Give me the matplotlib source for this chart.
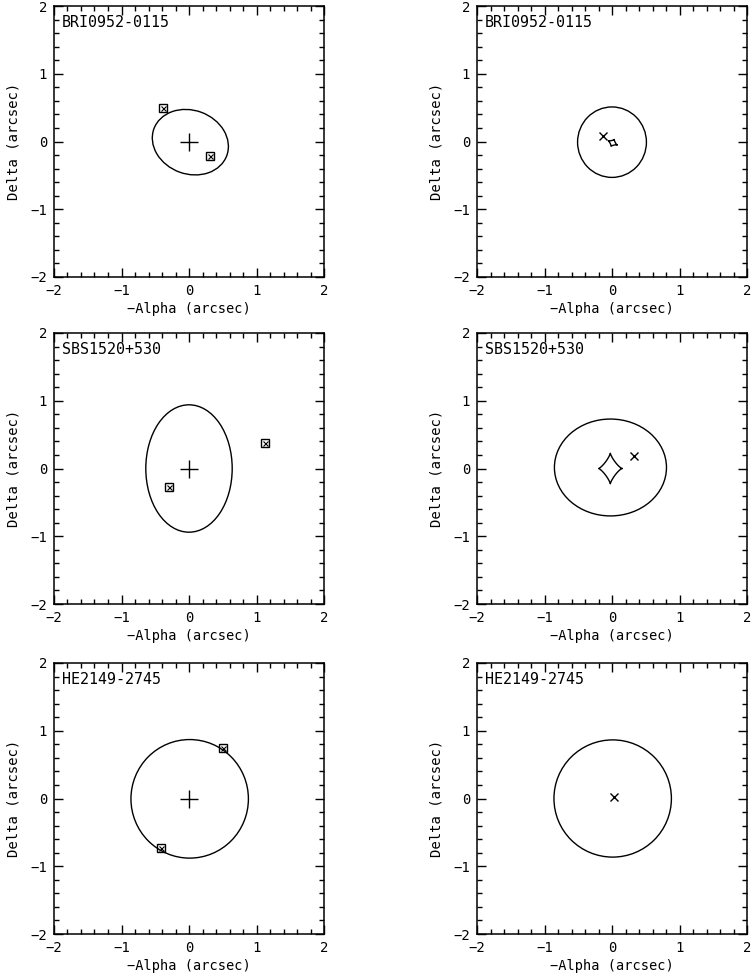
import numpy as np
import matplotlib
matplotlib.use("Agg")
import matplotlib.pyplot as plt
from matplotlib.patches import Ellipse
from matplotlib.ticker import MultipleLocator

# ---------------- data ----------------
names = ["BRI0952-0115", "SBS1520+530", "HE2149-2745"]

# image plane: critical curves (ellipses)
crit_cx = [0.02, 0.0, 0.01]
crit_cy = [-0.01, 0.0, -0.005]
crit_a = [0.575, 0.64, 0.87]
crit_b = [0.47, 0.94, 0.875]
crit_ang = [-20, 0, 0]
# lens galaxy positions (+)
lens_x = [0.0, 0.0, 0.0]
lens_y = [0.0, 0.0, 0.0]
# quasar images (boxed x)
img_x = [[-0.39, 0.31], [1.13, -0.30], [0.505, -0.41]]
img_y = [[0.50, -0.21], [0.38, -0.27], [0.745, -0.725]]

# source plane: cut curves (ellipses)
cut_cx = [0.0, -0.023, 0.01]
cut_cy = [-0.01, 0.015, 0.0]
cut_a = [0.51, 0.83, 0.87]
cut_b = [0.52, 0.715, 0.865]
# tangential caustics (astroid-like); None = not drawn
ast_cx = [0.01, -0.025, None]
ast_cy = [-0.02, 0.0, None]
ast_a = [0.07, 0.172, None]
ast_b = [0.055, 0.225, None]
ast_ang = [-25, 0, None]
# source positions (x)
src_x = [-0.135, 0.33, 0.025]
src_y = [0.085, 0.185, 0.02]

xticks = [-2, -1, 0, 1, 2]
xlabel = "\u2212Alpha (arcsec)"
ylabel = "Delta (arcsec)"

# ---------------- figure ----------------
W, H = 752, 977
fig = plt.figure(figsize=(W / 100, H / 100), dpi=100)
FONT = "DejaVu Sans Mono"
plt.rcParams["font.family"] = FONT

col_x = [54 / W, 477 / W]
col_w = 270 / W
row_top = [6, 333, 663]
row_h = 271

def style(ax):
    ax.set_xlim(-2, 2)
    ax.set_ylim(-2, 2)
    ax.set_xticks(xticks)
    ax.set_yticks(xticks)
    ax.xaxis.set_minor_locator(MultipleLocator(0.2))
    ax.yaxis.set_minor_locator(MultipleLocator(0.2))
    ax.tick_params(which="both", direction="in", top=True, right=True,
                   width=1.0, labelsize=10)
    ax.tick_params(which="major", length=6.5, pad=5)
    ax.tick_params(which="minor", length=3.3)
    for s in ax.spines.values():
        s.set_linewidth(1.1)
    ax.set_xlabel(xlabel, fontsize=9.8, labelpad=3)
    ax.set_ylabel(ylabel, fontsize=10, labelpad=7)

lw = 1.0
for r in range(3):
    bottom = (H - row_top[r] - row_h) / H
    hgt = row_h / H
    # left: image plane
    ax = fig.add_axes([col_x[0], bottom, col_w, hgt])
    style(ax)
    ax.add_patch(Ellipse((crit_cx[r], crit_cy[r]), 2 * crit_a[r], 2 * crit_b[r],
                         angle=crit_ang[r], fill=False, lw=lw, color="black"))
    ax.plot(lens_x[r], lens_y[r], marker="+", ms=12.5, mew=1.0, color="black", ls="none")
    ax.plot(img_x[r], img_y[r], marker="s", ms=5.6, mew=1.0, mfc="none", color="black", ls="none")
    ax.plot(img_x[r], img_y[r], marker="x", ms=3.6, mew=0.8, color="black", ls="none")
    ax.text(0.03, 0.965, names[r], transform=ax.transAxes, ha="left", va="top", fontsize=10.8)

    # right: source plane
    ax = fig.add_axes([col_x[1], bottom, col_w, hgt])
    style(ax)
    ax.add_patch(Ellipse((cut_cx[r], cut_cy[r]), 2 * cut_a[r], 2 * cut_b[r],
                         fill=False, lw=lw, color="black"))
    if ast_a[r] is not None:
        t = np.linspace(0, 2 * np.pi, 400)
        q = 2.5
        u = ast_a[r] * np.sign(np.cos(t)) * np.abs(np.cos(t)) ** q
        v = ast_b[r] * np.sign(np.sin(t)) * np.abs(np.sin(t)) ** q
        th = np.deg2rad(ast_ang[r])
        xs = ast_cx[r] + u * np.cos(th) - v * np.sin(th)
        ys = ast_cy[r] + u * np.sin(th) + v * np.cos(th)
        ax.plot(xs, ys, color="black", lw=lw)
    ax.plot(src_x[r], src_y[r], marker="x", ms=5.5, mew=1.0, color="black", ls="none")
    ax.text(0.03, 0.965, names[r], transform=ax.transAxes, ha="left", va="top", fontsize=10.8)

fig.savefig("out.png", dpi=100)
